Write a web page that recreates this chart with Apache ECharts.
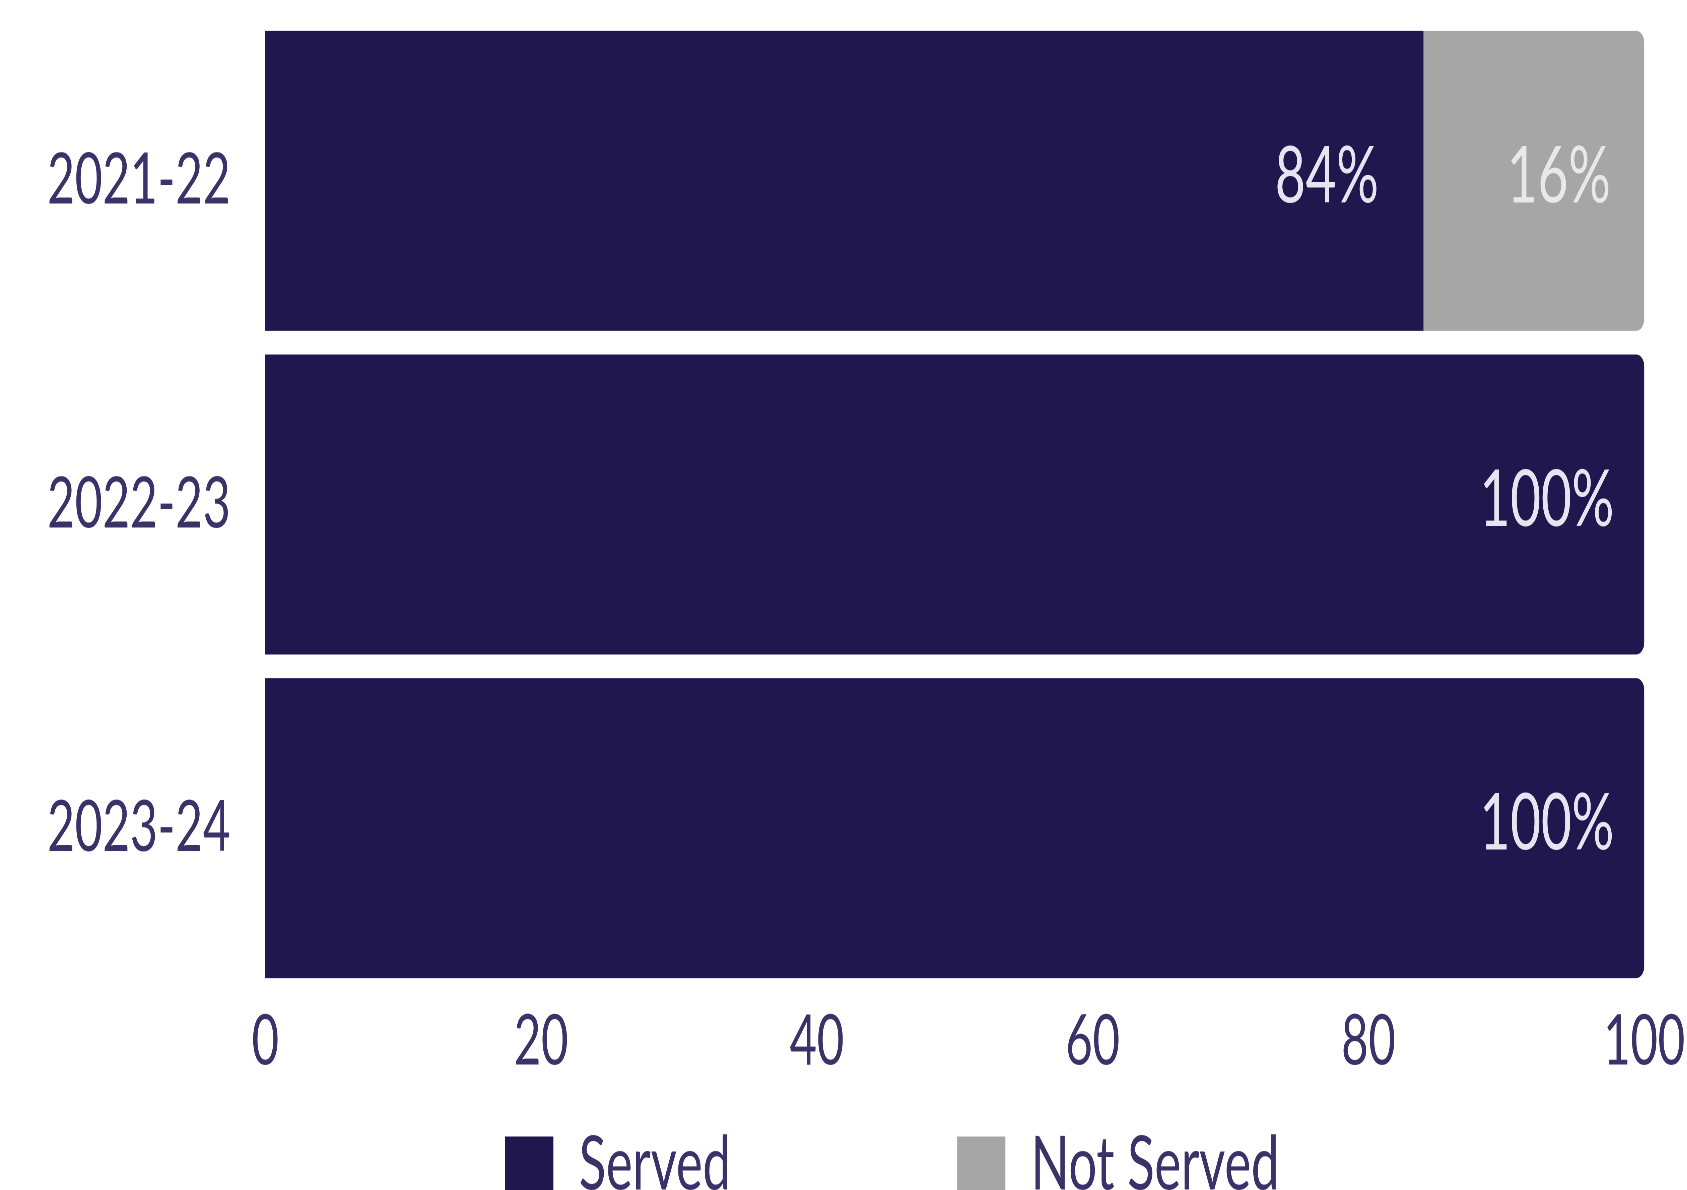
<!DOCTYPE html>
<html>
<head>
<meta charset="utf-8">
<script src="https://cdn.jsdelivr.net/npm/echarts@6/dist/echarts.min.js"></script>
<style>
  html, body { margin: 0; padding: 0; background: #ffffff; overflow: hidden; width: 1687px; height: 1190px; }
  #c { width: 2518px; height: 1190px; transform: scaleX(0.67); transform-origin: 0 0; }
</style>
</head>
<body>
<div id="c"></div>
<script>
const categories = ['2021-22', '2022-23', '2023-24'];
const servedValues = [84, 100, 100];
const notServedValues = [16, 0, 0];
const xTicks = [0, 20, 40, 60, 80, 100];

const SERVED = '#21174f';
const NOT_SERVED = '#a6a6a6';
const TEXT = '#3a3268';
const R = 12;

const chart = echarts.init(document.getElementById('c'), null, { renderer: 'canvas', devicePixelRatio: 2 });

const servedData = servedValues.map((v, i) => ({
  value: v,
  itemStyle: { borderRadius: notServedValues[i] > 0 ? 0 : [0, R, R, 0] },
  label: { distance: notServedValues[i] > 0 ? 67 : 45 }
}));
const notServedData = notServedValues.map(v => ({
  value: v,
  itemStyle: { borderRadius: [0, R, R, 0] }
}));

chart.setOption({
  animation: false,
  textStyle: { fontFamily: 'Lato' },
  grid: { left: 396, right: 59, top: 19, bottom: 200, containLabel: false },
  legend: {
    left: 749,
    top: 1123,
    icon: 'rect',
    itemWidth: 72,
    itemHeight: 58,
    itemGap: 338,
    textStyle: { fontFamily: 'Lato', fontSize: 75, color: TEXT, padding: [0, 0, 0, 33] },
    data: ['Served', 'Not Served']
  },
  xAxis: {
    type: 'value',
    min: xTicks[0],
    max: xTicks[xTicks.length - 1],
    interval: xTicks[1] - xTicks[0],
    axisLine: { show: false },
    axisTick: { show: false },
    splitLine: { show: false },
    axisLabel: { fontFamily: 'Lato', fontSize: 70, color: TEXT, margin: 17 }
  },
  yAxis: {
    type: 'category',
    inverse: true,
    data: categories,
    axisLine: { show: false },
    axisTick: { show: false },
    axisLabel: { fontFamily: 'Lato', fontSize: 71, color: TEXT, margin: 52 }
  },
  series: [
    {
      name: 'Served',
      type: 'bar',
      stack: 'total',
      barCategoryGap: '7.3%',
      itemStyle: { color: SERVED },
      label: {
        show: true,
        position: 'insideRight',
        fontFamily: 'Lato',
        fontSize: 79,
        color: '#e6e4f0',
        offset: [0, -4],
        formatter: p => p.value > 0 ? p.value + '%' : ''
      },
      data: servedData
    },
    {
      name: 'Not Served',
      type: 'bar',
      stack: 'total',
      barCategoryGap: '7.3%',
      itemStyle: { color: NOT_SERVED },
      label: {
        show: true,
        position: 'insideRight',
        distance: 50,
        fontFamily: 'Lato',
        fontSize: 79,
        color: '#e8e8e8',
        offset: [0, -4],
        formatter: p => p.value > 0 ? p.value + '%' : ''
      },
      data: notServedData
    }
  ]
});
</script>
</body>
</html>
